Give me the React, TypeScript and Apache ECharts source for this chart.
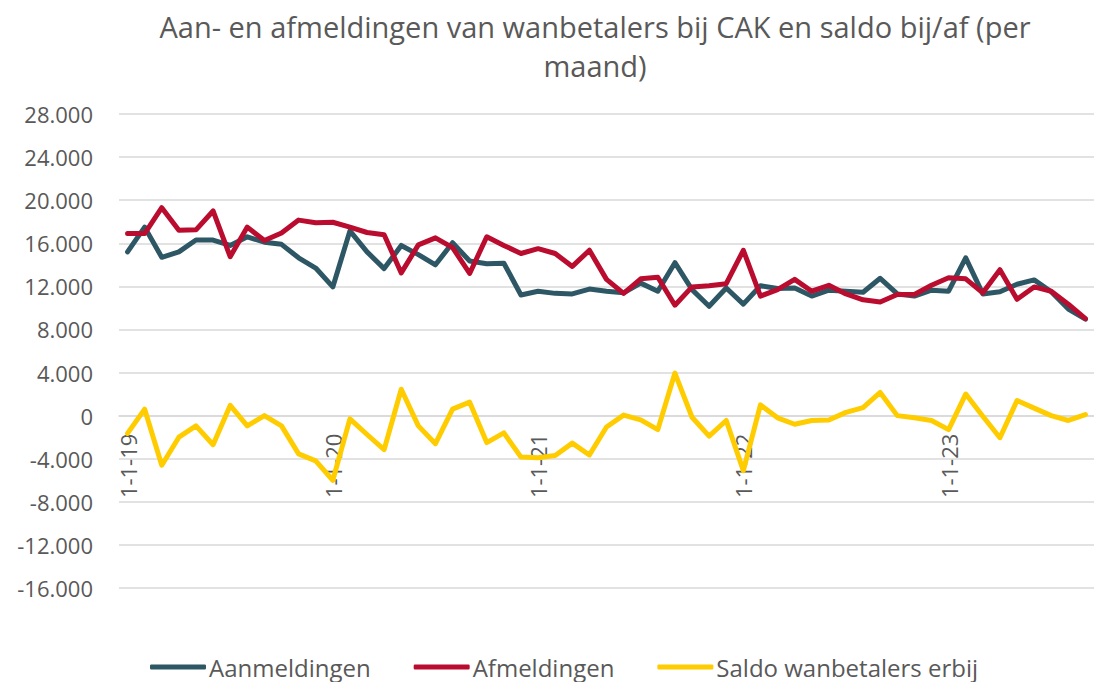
import React, { useEffect, useRef } from "react";
import * as echarts from "echarts";

const categories: string[] = [
  "1-1-19", "1-2-19", "1-3-19", "1-4-19", "1-5-19", "1-6-19", "1-7-19", "1-8-19", "1-9-19", "1-10-19", "1-11-19", "1-12-19",
  "1-1-20", "1-2-20", "1-3-20", "1-4-20", "1-5-20", "1-6-20", "1-7-20", "1-8-20", "1-9-20", "1-10-20", "1-11-20", "1-12-20",
  "1-1-21", "1-2-21", "1-3-21", "1-4-21", "1-5-21", "1-6-21", "1-7-21", "1-8-21", "1-9-21", "1-10-21", "1-11-21", "1-12-21",
  "1-1-22", "1-2-22", "1-3-22", "1-4-22", "1-5-22", "1-6-22", "1-7-22", "1-8-22", "1-9-22", "1-10-22", "1-11-22", "1-12-22",
  "1-1-23", "1-2-23", "1-3-23", "1-4-23", "1-5-23", "1-6-23", "1-7-23", "1-8-23", "1-9-23",
];

const aanmeldingen: number[] = [
  15200, 17500, 14700, 15200, 16300, 16300, 15800, 16600, 16100, 15900, 14650, 13700,
  11950, 17150, 15200, 13650, 15800, 14950, 14000, 16050, 14350, 14100, 14150, 11200,
  11550, 11350, 11300, 11750, 11550, 11400, 12300, 11550, 14200, 11700, 10150, 11850,
  10350, 12050, 11800, 11850, 11100, 11650, 11550, 11450, 12750, 11300, 11100, 11650,
  11550, 14650, 11300, 11500, 12200, 12600, 11500, 9900, 8950,
];

const afmeldingen: number[] = [
  16900, 16900, 19300, 17200, 17250, 19000, 14750, 17500, 16250, 16950, 18150, 17900,
  17950, 17500, 17000, 16800, 13250, 15850, 16500, 15600, 13200, 16600, 15800, 15050,
  15500, 15050, 13850, 15350, 12650, 11350, 12700, 12850, 10250, 11950, 12050, 12250,
  15350, 11100, 11700, 12650, 11550, 12100, 11300, 10750, 10550, 11250, 11250, 12100,
  12800, 12700, 11400, 13550, 10800, 11950, 11550, 10350, 9000,
];

const saldo: number[] = [
  -1650, 600, -4600, -2000, -950, -2700, 950, -950, 0, -950, -3550, -4200,
  -6000, -300, -1750, -3150, 2450, -950, -2600, 600, 1250, -2500, -1600, -3850,
  -3900, -3700, -2550, -3650, -1050, 50, -400, -1300, 3950, -150, -1900, -450,
  -5100, 1000, -200, -800, -450, -400, 300, 750, 2150, 0, -200, -450,
  -1300, 2000, -50, -2050, 1400, 700, 0, -450, 100,
];

const seriesNames = ["Aanmeldingen", "Afmeldingen", "Saldo wanbetalers erbij"];
const seriesColors = ["#2E5766", "#BA0C2F", "#FFCC00"];

const fmt = (v: number): string => {
  if (v === 0) return "0";
  const sign = v < 0 ? "-" : "";
  const s = String(Math.abs(v));
  return sign + s.replace(/\B(?=(\d{3})+(?!\d))/g, ".");
};

export default function App() {
  const ref = useRef<HTMLDivElement>(null);
  useEffect(() => {
    if (!ref.current) return;
    const chart = echarts.init(ref.current, undefined, { renderer: "svg" });
    const font = "'Open Sans', sans-serif";
    const textColor = "#595959";
    const data = [aanmeldingen, afmeldingen, saldo];
    const gridTop = 114;
    const gridHeight = 474;
    const yMin = -16000;
    const yMax = 28000;
    const zeroOffset = -gridHeight * (0 - yMin) / (yMax - yMin);
    chart.setOption({
      animation: false,
      backgroundColor: "#ffffff",
      title: {
        text: "Aan- en afmeldingen van wanbetalers bij CAK en saldo bij/af (per\nmaand)",
        left: 590,
        top: 2,
        textAlign: "center",
        textStyle: {
          fontFamily: font,
          fontSize: 29,
          fontWeight: "normal",
          color: textColor,
          lineHeight: 39,
        },
      },
      legend: {
        data: seriesNames,
        left: 150,
        top: 652,
        padding: 0,
        icon: "roundRect",
        itemWidth: 56,
        itemHeight: 5,
        itemGap: 43,
        textStyle: {
          fontFamily: font,
          fontSize: 24,
          color: textColor,
          lineHeight: 30,
          padding: [0, 0, 0, -2],
        },
      },
      grid: { left: 119, top: gridTop, width: 980, height: gridHeight, containLabel: false },
      xAxis: {
        type: "category",
        data: categories,
        boundaryGap: true,
        offset: zeroOffset,
        axisLine: { show: true, onZero: false, lineStyle: { color: "#D9D9D9", width: 1.5 } },
        axisTick: { show: false },
        splitLine: { show: false },
        axisLabel: {
          interval: 11,
          rotate: 90,
          margin: 18,
          fontFamily: font,
          fontSize: 22,
          color: textColor,
        },
      },
      yAxis: {
        type: "value",
        min: yMin,
        max: yMax,
        interval: 4000,
        axisLine: { show: false },
        axisTick: { show: false },
        splitLine: { show: true, lineStyle: { color: "#D9D9D9", width: 1.5 } },
        axisLabel: {
          margin: 26,
          fontFamily: font,
          fontSize: 22,
          color: textColor,
          formatter: (v: number) => fmt(v),
        },
      },
      series: seriesNames.map((name, i) => ({
        name,
        type: "line",
        data: data[i],
        symbol: "none",
        showSymbol: false,
        color: seriesColors[i],
        lineStyle: { width: 5, color: seriesColors[i], cap: "round", join: "round" },
        itemStyle: { color: seriesColors[i] },
      })),
    });
    return () => chart.dispose();
  }, []);
  return (
    <div
      ref={ref}
      style={{ position: "absolute", left: 0, top: 0, width: 1094, height: 682, overflow: "hidden" }}
    />
  );
}
